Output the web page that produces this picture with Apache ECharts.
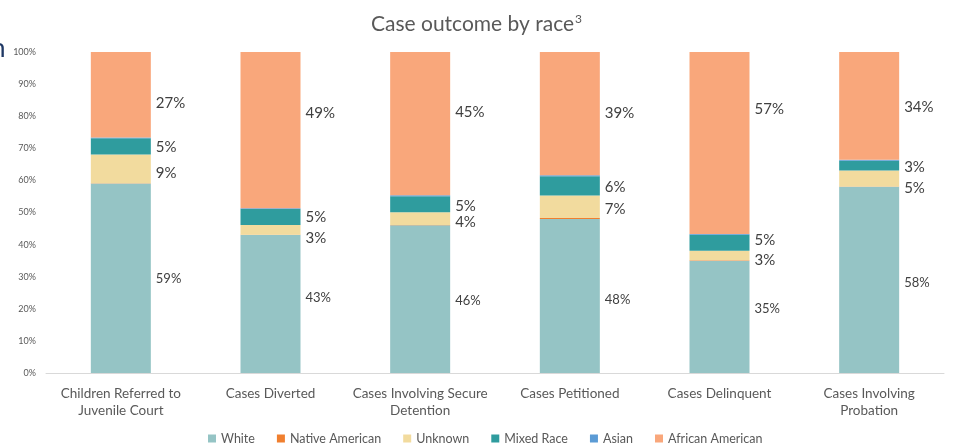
<!DOCTYPE html>
<html>
<head>
<meta charset="utf-8">
<script src="https://cdn.jsdelivr.net/npm/echarts@6/dist/echarts.min.js"></script>
<style>
  html, body { margin: 0; padding: 0; background: #fff; }
  #chart { width: 953px; height: 446px; }
</style>
</head>
<body>
<div id="chart"></div>
<script>
// Share of cases by race at each stage of the juvenile justice process (%)
const categories = [
  'Children Referred to\nJuvenile Court',
  'Cases Diverted',
  'Cases Involving Secure\nDetention',
  'Cases Petitioned',
  'Cases Delinquent',
  'Cases Involving\nProbation'
];
const white           = [59, 43, 46, 48, 35, 58];
const nativeAmerican  = [0.1, 0.1, 0.1, 0.3, 0.1, 0.1];
const unknown         = [9, 3, 4, 7, 3, 5];
const mixedRace       = [5, 5, 5, 6, 5, 3];
const asian           = [0.3, 0.2, 0.3, 0.3, 0.2, 0.3];
const africanAmerican = [27, 49, 45, 39, 57, 34];
const yTicks = [0, 10, 20, 30, 40, 50, 60, 70, 80, 90, 100];

// vertical nudges for the value labels so they don't collide
const nudgeWhite   = [1, -6, 2, 4, -8, 3];
const nudgeUnknown = [4, 8, 4, 2, 5, 10];
const nudgeMixed   = [1, 0, 2, 1, -3, 2];
const nudgeAA      = [8, -17, -11, 0, -34, 1];

const colors = {
  white: '#95C4C5',
  native: '#F07F2F',
  unknown: '#F2DB9E',
  mixed: '#2F9C9E',
  asian: '#5B9BD5',
  aa: '#F9A77B'
};

const FONT = 'Lato, "Open Sans", sans-serif';

function items(values, nudges) {
  return values.map((v, i) => nudges
    ? { value: v, label: { offset: [0, nudges[i]] } }
    : v);
}

function series(name, values, color, nudges, labelSize) {
  return {
    name: name,
    type: 'bar',
    stack: 'total',
    barWidth: 60,
    itemStyle: { color: color },
    data: items(values, nudges),
    label: nudges ? {
      show: true,
      position: 'right',
      distance: 5,
      formatter: '{c}%',
      fontFamily: FONT,
      fontSize: labelSize,
      color: '#404040'
    } : { show: false },
    emphasis: { disabled: true }
  };
}

const chart = echarts.init(document.getElementById('chart'), null, { renderer: 'canvas' });
chart.setOption({
  animation: false,
  backgroundColor: '#ffffff',
  title: {
    text: 'Case outcome by race{sup|3}',
    left: 'center',
    top: 8,
    textStyle: {
      fontFamily: FONT,
      fontSize: 21,
      fontWeight: 'normal',
      color: '#595959',
      rich: {
        sup: { fontFamily: FONT, fontSize: 12, color: '#595959', verticalAlign: 'top', padding: [0, 0, 10, 1] }
      }
    }
  },
  graphic: [{
    type: 'text',
    left: -9,
    top: 36,
    style: { text: 'n', font: '26px ' + FONT, fill: '#1F3864' }
  }],
  legend: {
    top: 427,
    left: 203,
    itemWidth: 8,
    itemHeight: 8,
    itemGap: 22,
    icon: 'rect',
    textStyle: { fontFamily: FONT, fontSize: 12.5, color: '#595959' },
    data: ['White', 'Native American', 'Unknown', 'Mixed Race', 'Asian', 'African American']
  },
  grid: { left: 46, right: 9, top: 52, bottom: 73, containLabel: false },
  xAxis: {
    type: 'category',
    data: categories,
    axisLine: { lineStyle: { color: '#D9D9D9' } },
    axisTick: { show: false },
    axisLabel: {
      fontFamily: FONT,
      fontSize: 13.5,
      color: '#595959',
      lineHeight: 17,
      margin: 12,
      interval: 0
    }
  },
  yAxis: {
    type: 'value',
    min: yTicks[0],
    max: yTicks[yTicks.length - 1],
    interval: 10,
    axisLine: { show: false },
    axisTick: { show: false },
    splitLine: { show: false },
    axisLabel: {
      formatter: '{value}%',
      fontFamily: FONT,
      fontSize: 9,
      color: '#595959',
      margin: 10
    }
  },
  series: [
    series('White', white, colors.white, nudgeWhite, 13),
    series('Native American', nativeAmerican, colors.native, null),
    series('Unknown', unknown, colors.unknown, nudgeUnknown, 15),
    series('Mixed Race', mixedRace, colors.mixed, nudgeMixed, 15),
    series('Asian', asian, colors.asian, null),
    series('African American', africanAmerican, colors.aa, nudgeAA, 15)
  ]
});
</script>
</body>
</html>
